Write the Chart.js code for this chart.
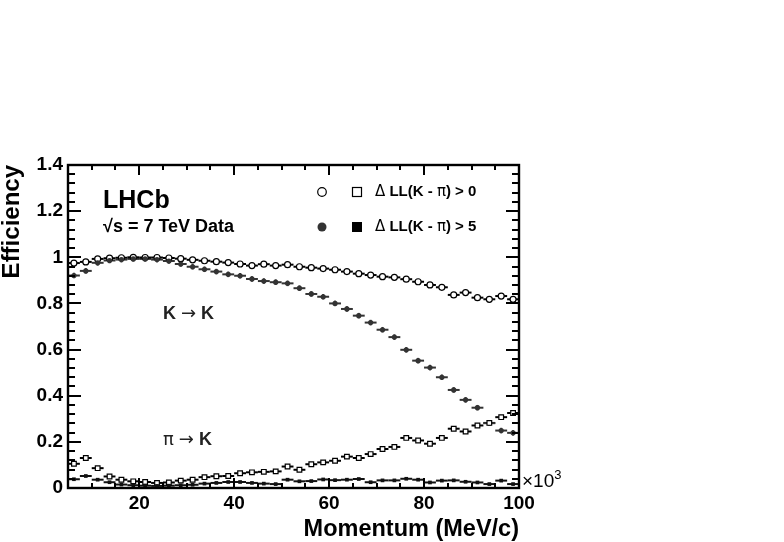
<!DOCTYPE html>
<html>
<head>
<meta charset="utf-8">
<script src="https://cdn.jsdelivr.net/npm/chart.js@4.4.0/dist/chart.umd.min.js"></script>
<style>
html,body{margin:0;padding:0;background:#fff}
canvas{display:block}
</style>
</head>
<body>
<canvas id="eff" width="784" height="542"></canvas>
<script>
// bin centres in GeV/c (axis is MeV/c x10^3), bins are 2.5 wide
var momentum = [6.25, 8.75, 11.25, 13.75, 16.25, 18.75, 21.25, 23.75, 26.25, 28.75,
                31.25, 33.75, 36.25, 38.75, 41.25, 43.75, 46.25, 48.75, 51.25, 53.75,
                56.25, 58.75, 61.25, 63.75, 66.25, 68.75, 71.25, 73.75, 76.25, 78.75,
                81.25, 83.75, 86.25, 88.75, 91.25, 93.75, 96.25, 98.75];
var binHalf = 1.25;

// K -> K, DLL(K-pi) > 0  (open circles)
var kkLoose = [0.975, 0.980, 0.993, 0.996, 0.998, 1.000, 0.999, 0.999, 0.997, 0.994,
               0.989, 0.985, 0.981, 0.977, 0.971, 0.964, 0.970, 0.964, 0.968, 0.959,
               0.955, 0.951, 0.946, 0.938, 0.929, 0.923, 0.916, 0.913, 0.905, 0.894,
               0.880, 0.870, 0.837, 0.847, 0.825, 0.818, 0.832, 0.818];
// K -> K, DLL(K-pi) > 5  (filled circles)
var kkTight = [0.921, 0.941, 0.976, 0.986, 0.990, 0.993, 0.993, 0.990, 0.984, 0.971,
               0.959, 0.948, 0.938, 0.926, 0.920, 0.906, 0.897, 0.892, 0.887, 0.866,
               0.841, 0.829, 0.800, 0.776, 0.747, 0.717, 0.686, 0.654, 0.599, 0.552,
               0.522, 0.480, 0.425, 0.382, 0.348, 0.281, 0.249, 0.239];
// pi -> K, DLL(K-pi) > 0  (open squares)
var piLoose = [0.105, 0.130, 0.086, 0.050, 0.036, 0.029, 0.026, 0.022, 0.024, 0.032,
               0.036, 0.047, 0.051, 0.052, 0.064, 0.068, 0.070, 0.072, 0.093, 0.079,
               0.103, 0.111, 0.118, 0.136, 0.130, 0.147, 0.169, 0.178, 0.217, 0.206,
               0.192, 0.217, 0.257, 0.245, 0.271, 0.282, 0.307, 0.325];
// pi -> K, DLL(K-pi) > 5  (filled squares)
var piTight = [0.038, 0.052, 0.036, 0.025, 0.015, 0.012, 0.010, 0.009, 0.010, 0.012,
               0.014, 0.019, 0.022, 0.026, 0.026, 0.022, 0.019, 0.017, 0.036, 0.029,
               0.030, 0.037, 0.034, 0.036, 0.039, 0.025, 0.033, 0.033, 0.040, 0.036,
               0.024, 0.032, 0.033, 0.027, 0.024, 0.017, 0.032, 0.017];

var xTickVals = [20, 40, 60, 80, 100];
var yTickVals = [0, 0.2, 0.4, 0.6, 0.8, 1, 1.2, 1.4];

var FONT = "'Liberation Sans', Arial, Helvetica, sans-serif";
var SYM = "'DejaVu Sans', sans-serif";

function pts(vals){
    var out = [];
    for (var i = 0; i < vals.length; i++) out.push({x: momentum[i], y: vals[i]});
    return out;
}

// draws a run of [text, font] pieces starting at x
function pieces(ctx, parts, x, y){
    parts.forEach(function(p){
        ctx.font = p[1];
        ctx.fillText(p[0], x, y);
        x += ctx.measureText(p[0]).width;
    });
}

// horizontal bin-width bars (and tiny vertical ones) under every point
var errorBars = {
    id: 'errorBars',
    beforeDatasetsDraw: function(chart){
        var ctx = chart.ctx, xs = chart.scales.x, ys = chart.scales.y;
        ctx.save();
        chart.data.datasets.forEach(function(ds){
            ctx.strokeStyle = ds.barColor;
            ctx.lineWidth = 2;
            ds.data.forEach(function(p){
                var y = ys.getPixelForValue(p.y);
                ctx.beginPath();
                ctx.moveTo(xs.getPixelForValue(p.x - binHalf), y);
                ctx.lineTo(xs.getPixelForValue(p.x + binHalf), y);
                ctx.stroke();
                if (ds.yErr){
                    var xc = xs.getPixelForValue(p.x);
                    ctx.beginPath();
                    ctx.moveTo(xc, ys.getPixelForValue(p.y - ds.yErr));
                    ctx.lineTo(xc, ys.getPixelForValue(p.y + ds.yErr));
                    ctx.stroke();
                }
            });
        });
        ctx.restore();
    }
};

// ROOT style frame with inside ticks, plus all the labels
var frame = {
    id: 'frame',
    afterDraw: function(chart){
        var ctx = chart.ctx, a = chart.chartArea, xs = chart.scales.x, ys = chart.scales.y;
        ctx.save();
        ctx.strokeStyle = '#000';
        ctx.lineWidth = 2.4;
        ctx.strokeRect(a.left, a.top, a.right - a.left, a.bottom - a.top);
        ctx.lineWidth = 2;
        ctx.beginPath();
        var v, px, len;
        for (v = 0; v <= 1.4001; v += 0.04){
            px = Math.round(ys.getPixelForValue(v));
            len = (Math.abs(v / 0.2 - Math.round(v / 0.2)) < 0.01) ? 13 : 7;
            ctx.moveTo(a.left, px); ctx.lineTo(a.left + len, px);
            ctx.moveTo(a.right, px); ctx.lineTo(a.right - len, px);
        }
        for (v = 5; v <= 100; v += 5){
            px = Math.round(xs.getPixelForValue(v));
            len = (v % 20 == 0) ? 10 : 5;
            ctx.moveTo(px, a.bottom); ctx.lineTo(px, a.bottom - len);
            ctx.moveTo(px, a.top); ctx.lineTo(px, a.top + len);
        }
        ctx.stroke();

        ctx.fillStyle = '#000';
        ctx.textBaseline = 'middle';
        ctx.textAlign = 'left';
        // x10^3
        ctx.font = '19px ' + FONT;
        ctx.fillText('\u00d710', a.right + 3, a.bottom - 6);
        var w = ctx.measureText('\u00d710').width;
        ctx.font = '13px ' + FONT;
        ctx.fillText('3', a.right + 3 + w, a.bottom - 13);

        ctx.font = 'bold 25px ' + FONT;
        ctx.fillText('LHCb', 103, 201);
        ctx.font = 'bold 18px ' + FONT;
        ctx.fillText('\u221As = 7 TeV Data', 103, 227);

        ctx.fillStyle = '#222';
        var bold18 = 'bold 18px ' + FONT, sym18 = '18px ' + SYM;
        pieces(ctx, [['K ', bold18], ['\u2192', sym18], [' K', bold18]], 163, 314);
        pieces(ctx, [['\u03c0', '18px ' + SYM], [' ', bold18], ['\u2192', sym18], [' K', bold18]], 163, 440);

        // legend
        ctx.fillStyle = '#000';
        var b15 = 'bold 15px ' + FONT, s15 = '15px ' + SYM;
        pieces(ctx, [['\u0394', s15], [' LL(K - ', b15], ['\u03c0', s15], [') > 0', b15]], 375, 192);
        pieces(ctx, [['\u0394', s15], [' LL(K - ', b15], ['\u03c0', s15], [') > 5', b15]], 375, 227);
        ctx.lineWidth = 1.2;
        ctx.beginPath(); ctx.arc(322, 192, 4.3, 0, Math.PI * 2);
        ctx.fillStyle = '#fff'; ctx.fill(); ctx.stroke();
        ctx.fillRect(352.5, 187.5, 9, 9); ctx.strokeRect(352.5, 187.5, 9, 9);
        ctx.fillStyle = '#333';
        ctx.beginPath(); ctx.arc(322, 227, 4.5, 0, Math.PI * 2); ctx.fill();
        ctx.fillStyle = '#000';
        ctx.fillRect(352, 222, 10, 10);
        ctx.restore();
    }
};

new Chart('eff', {
    type: 'scatter',
    data: {
        datasets: [
            {label: 'pi->K DLL>5', data: pts(piTight), pointStyle: 'rect', pointRadius: 2.6,
             backgroundColor: '#111', borderColor: '#111', borderWidth: 0, barColor: '#111'},
            {label: 'pi->K DLL>0', data: pts(piLoose), pointStyle: 'rect', pointRadius: 3.3,
             backgroundColor: '#fff', borderColor: '#000', borderWidth: 1.2, barColor: '#000'},
            {label: 'K->K DLL>5', data: pts(kkTight), pointStyle: 'circle', pointRadius: 2.6,
             backgroundColor: '#333', borderColor: '#333', borderWidth: 0, barColor: '#333', yErr: 0.012},
            {label: 'K->K DLL>0', data: pts(kkLoose), pointStyle: 'circle', pointRadius: 3,
             backgroundColor: '#fff', borderColor: '#000', borderWidth: 1.2, barColor: '#000'}
        ]
    },
    options: {
        responsive: false,
        animation: false,
        layout: {padding: {left: 0, top: 165, right: 265, bottom: 0}},
        plugins: {legend: {display: false}, tooltip: {enabled: false}},
        scales: {
            x: {
                type: 'linear', min: 5, max: 100,
                afterBuildTicks: function(s){ s.ticks = xTickVals.map(function(v){ return {value: v}; }); },
                afterFit: function(s){ s.height = 54; },
                grid: {display: false, drawTicks: false}, border: {display: false},
                ticks: {color: '#000', padding: 4, maxRotation: 0, autoSkip: false,
                        font: {family: FONT, size: 19, weight: 'bold'}},
                title: {display: true, text: 'Momentum (MeV/c)', align: 'end', color: '#000',
                        padding: {top: 0, bottom: 0},
                        font: {family: FONT, size: 23.5, weight: 'bold', lineHeight: 1.1}}
            },
            y: {
                type: 'linear', min: 0, max: 1.4,
                afterBuildTicks: function(s){ s.ticks = yTickVals.map(function(v){ return {value: v}; }); },
                afterFit: function(s){ s.width = 68; },
                grid: {display: false, drawTicks: false}, border: {display: false},
                ticks: {color: '#000', padding: 5, autoSkip: false,
                        callback: function(v){ return String(+v.toFixed(1)); },
                        font: {family: FONT, size: 19, weight: 'bold'}},
                title: {display: true, text: 'Efficiency', align: 'end', color: '#000',
                        padding: {top: 0, bottom: 0},
                        font: {family: FONT, size: 24, weight: 'bold', lineHeight: 1.0}}
            }
        }
    },
    plugins: [errorBars, frame]
});
</script>
</body>
</html>
